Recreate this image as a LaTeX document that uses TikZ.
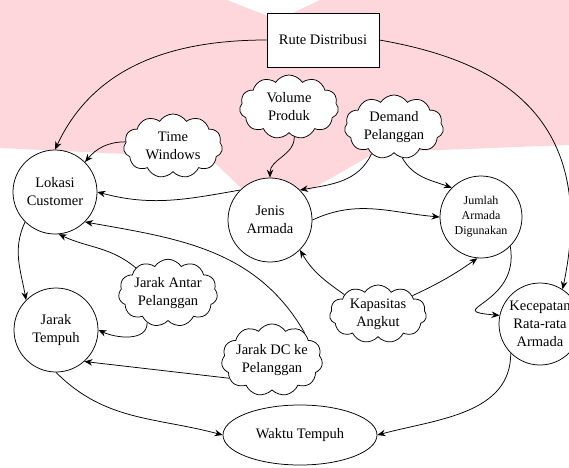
\documentclass[tikz,border=0pt]{standalone}
\usepackage{fontspec}
\setmainfont{Liberation Serif}
\usetikzlibrary{positioning,shapes.symbols,shapes.geometric,arrows.meta}
\definecolor{wmpink}{RGB}{254,215,220}

\begin{document}
\begin{tikzpicture}[
      x=1pt, y=1pt,
      nodes={
        draw=black, line width=0.75pt, fill=white, align=center,
        font=\fontsize{14.5}{18}\selectfont, inner sep=0pt
      },
      var/.style={circle, minimum size=84pt},
      factor/.style={cloud, cloud puffs=11, cloud puff arc=115, aspect=1.6,
        minimum width=99pt, minimum height=64pt, inner sep=-2pt},
      on grid, line width=0.75pt, >={Stealth[length=8pt,width=6.5pt]}
      ]

  \useasboundingbox (0,0) rectangle (569,467);
  % watermark
  \fill[wmpink] (0,467) -- (227,467) -- (278,447) -- (320,467) -- (569,467)
    -- (569,322) -- (440,317) -- (375,314) -- (310,277) -- (243,277)
    -- (210,309) -- (0,319) -- cycle;

	  \node[var] at (270,247)  (jen) {Jenis\\Armada};
	  \node[rectangle, minimum width=112pt, minimum height=54pt,
	    above right = 180pt and 53pt of jen]  (rute) {Rute Distribusi};
	  \node[factor, above right = 113pt and 19pt of jen]  (vol) {Volume\\Produk};
	  \node[factor, above right = 93pt and 124pt of jen]  (dem) {Demand\\Pelanggan};
	  \node[factor, above left = 74pt and 97pt of jen]  (tw) {Time\\Windows};
	  \node[var, above left = 28pt and 215pt of jen]  (lok) {Lokasi\\Customer};
	  \node[var, minimum size=82pt, font=\fontsize{12}{15}\selectfont,
	    above right = 3pt and 211pt of jen]  (jum) {Jumlah\\Armada\\Digunakan};
	  \node[var, below right = 138pt and 1pt of lok]  (jar) {Jarak\\Tempuh};
	  \node[factor, below right = 101pt and 113pt of lok]  (jap) {Jarak Antar\\Pelanggan};
	  \node[factor, minimum width=97pt, minimum height=58pt,
	    below right = 94pt and 108pt of jen]  (kap) {Kapasitas\\Angkut};
	  \node[factor, below right = 140pt and 2pt of jen]  (jdc) {Jarak DC ke\\Pelanggan};
	  \node[var, minimum size=82pt, below right = 107pt and 59pt of jum]  (kec) {Kecepatan\\Rata-rata\\Armada};
	  \node[ellipse, minimum width=154pt, minimum height=60pt,
	    below right = 215pt and 30pt of jen]  (wak) {Waktu Tempuh};


  % Connect the nodes

  \draw[->] (rute.west) to[out=180, in=65] (lok.north);
  \draw[->] (rute.east) to[out=-10, in=78, out looseness=0.8, in looseness=1.6] (kec.57);
  \draw[->] (tw.175) to[out=180, in=50] (lok.45);
  \draw[->] (vol.-80) to[out=-90, in=90] (jen.north);
  \draw[->] (dem.230) to[out=-115, in=10] (jen.45);
  \draw[->] (dem.-75) to[out=-60, in=160] (jum.135);
  \draw[->] (jen.135) to[out=190, in=-15] (lok.east);
  \draw[->] (jen.east) to[out=25, in=175] (jum.west);
  \draw[->] (jdc.40) to[out=120, in=-10] (lok.-45);
  \draw[->] (jap.142) to[out=140, in=-25] (lok.-85);
  \draw[->] (jap.235) to[out=-90, in=-25] (jar.east);
  \draw[->] (lok.-135) to[out=-115, in=100] (jar.135);
  \draw[->] (jdc.203) -- (jar.-48);
  \draw[->] (kap.150) to[out=145, in=-60] (jen.-45);
  \draw[->] (kap.28) to[out=25, in=-145] (jum.-95);
  \draw[->] (jum.-45) to[out=-80, in=175, looseness=2.2] (kec.168);
  \draw[->] (jar.south) to[out=-45, in=165] (wak.west);
  %\draw[->] (kec.south) to[bend left] (wak.east);
  \draw[->] (kec.-135) to[out=-90, in=15] (wak.east);

\end{tikzpicture}
\end{document}
